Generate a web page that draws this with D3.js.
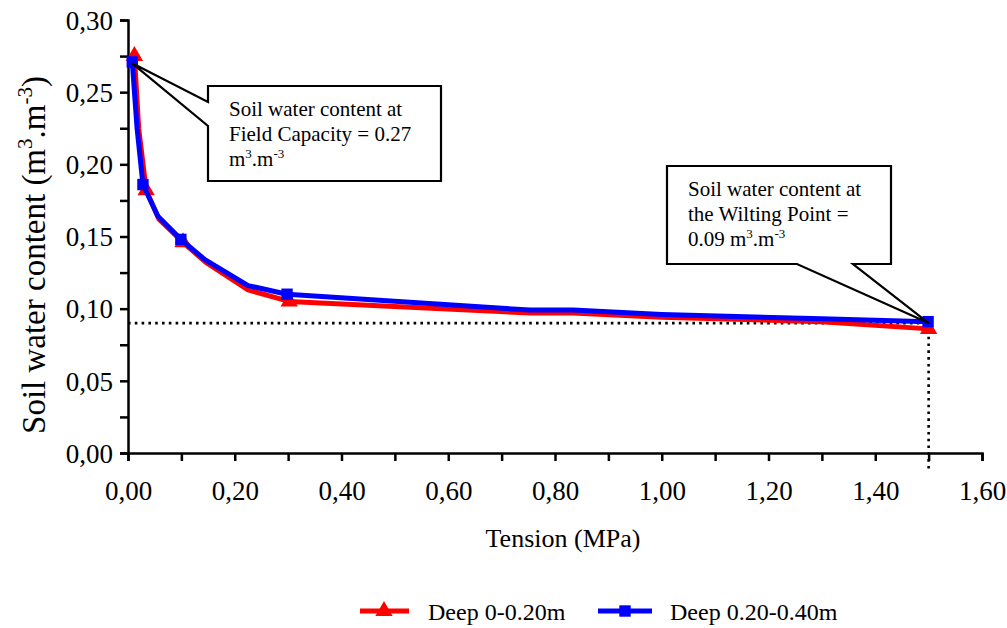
<!DOCTYPE html>
<html>
<head>
<meta charset="utf-8">
<script src="https://cdn.jsdelivr.net/npm/d3@7"></script>
<style>
  body { margin: 0; background: #fff; }
  svg text { font-family: "Liberation Serif", "DejaVu Serif", serif; fill: #000; }
</style>
</head>
<body>
<script>
// tension (MPa) and water content (m3.m-3)
// marked = measured points that carry a marker
var tensionTop = [0.012, 0.02, 0.034, 0.058, 0.103, 0.146, 0.225, 0.302, 0.753, 0.834, 1.00, 1.30, 1.50];
var contentTop = [0.275, 0.225, 0.182, 0.162, 0.146, 0.132, 0.113, 0.105, 0.097, 0.097, 0.094, 0.091, 0.086];
var markedTop  = [1, 0, 1, 0, 1, 0, 0, 1, 0, 0, 0, 0, 1];

var tensionSub = [0.008, 0.017, 0.028, 0.056, 0.099, 0.144, 0.225, 0.298, 0.753, 0.834, 1.00, 1.30, 1.499];
var contentSub = [0.271, 0.225, 0.186, 0.164, 0.148, 0.134, 0.116, 0.110, 0.099, 0.099, 0.096, 0.093, 0.091];
var markedSub  = [1, 0, 1, 0, 1, 0, 0, 1, 0, 0, 0, 0, 1];

var seriesNames = ["Deep 0-0.20m", "Deep 0.20-0.40m"];
var fieldCapacity = 0.27;
var wiltingPoint = 0.09;
var wiltingTension = 1.5;

var xTicks = [0, 0.2, 0.4, 0.6, 0.8, 1.0, 1.2, 1.4, 1.6];
var yTicks = [0, 0.05, 0.10, 0.15, 0.20, 0.25, 0.30];

var width = 1007, height = 628;
var svg = d3.select("body").append("svg")
            .attr("width", width)
            .attr("height", height);

var x = d3.scaleLinear().domain([0, 1.6]).range([128, 982]);
var y = d3.scaleLinear().domain([0, 0.3]).range([453, 20]);

function fmt(d) { return d3.format(".2f")(d).replace(".", ","); }

function isIn(list, d) {
  return list.some(function(t) { return Math.abs(t - d) < 1e-6; });
}

// axes
var xAxis = d3.axisBottom(x)
              .tickValues(d3.range(0, 1.61, 0.1))
              .tickSize(8)
              .tickFormat(function(d) { return isIn(xTicks, d) ? fmt(d) : ""; });
var yAxis = d3.axisLeft(y)
              .tickValues(d3.range(0, 0.301, 0.025))
              .tickSize(8)
              .tickFormat(function(d) { return isIn(yTicks, d) ? fmt(d) : ""; });

var gx = svg.append("g").attr("transform", "translate(0," + y(0) + ")").call(xAxis);
var gy = svg.append("g").attr("transform", "translate(" + x(0) + ",0)").call(yAxis);
[gx, gy].forEach(function(g) {
  g.attr("font-family", null).attr("font-size", null);
  g.select(".domain").attr("stroke", "#000").attr("stroke-width", 2.5);
  g.selectAll(".tick line").attr("stroke", "#000").attr("stroke-width", 2.5);
  g.selectAll(".tick text").style("font-size", "27px").attr("fill", "#000");
});
gx.selectAll(".tick text").attr("dy", 0).attr("y", 47);
gy.selectAll(".tick text").attr("x", -15).attr("dy", "0.34em");

// axis titles
svg.append("text")
   .attr("x", 563).attr("y", 547)
   .attr("text-anchor", "middle")
   .style("font-size", "26px")
   .text("Tension (MPa)");

var yTitle = svg.append("text")
   .attr("transform", "translate(45,255) rotate(-90)")
   .attr("text-anchor", "middle")
   .style("font-size", "33px");
yTitle.append("tspan").text("Soil water content (m");
yTitle.append("tspan").attr("dy", -13).style("font-size", "21px").text("3");
yTitle.append("tspan").attr("dy", 13).text(".m");
yTitle.append("tspan").attr("dy", -13).style("font-size", "21px").text("-3");
yTitle.append("tspan").attr("dy", 13).text(")");

// dotted reference lines for the wilting point
svg.append("line")
   .attr("x1", x(0)).attr("x2", x(wiltingTension))
   .attr("y1", y(wiltingPoint)).attr("y2", y(wiltingPoint))
   .attr("stroke", "#000").attr("stroke-width", 2.6)
   .attr("stroke-dasharray", "2.6,4.2");
svg.append("line")
   .attr("x1", x(wiltingTension)).attr("x2", x(wiltingTension))
   .attr("y1", y(wiltingPoint)).attr("y2", y(0) + 18)
   .attr("stroke", "#000").attr("stroke-width", 2.6)
   .attr("stroke-dasharray", "2.6,4.2");

// series
var series = [
  {name: seriesNames[0], color: "#ff0000", shape: d3.symbolTriangle, size: 130,
   data: tensionTop.map(function(t, i) { return {x: t, y: contentTop[i], m: markedTop[i]}; })},
  {name: seriesNames[1], color: "#0000ff", shape: d3.symbolSquare, size: 130,
   data: tensionSub.map(function(t, i) { return {x: t, y: contentSub[i], m: markedSub[i]}; })}
];

var line = d3.line()
             .x(function(d) { return x(d.x); })
             .y(function(d) { return y(d.y); });

series.forEach(function(s) {
  svg.append("path")
     .datum(s.data)
     .attr("d", line)
     .attr("fill", "none")
     .attr("stroke", s.color)
     .attr("stroke-width", 5)
     .attr("stroke-linejoin", "round");
  svg.selectAll(null)
     .data(s.data.filter(function(d) { return d.m; }))
     .enter().append("path")
     .attr("d", d3.symbol().type(s.shape).size(s.size))
     .attr("transform", function(d) { return "translate(" + x(d.x) + "," + y(d.y) + ")"; })
     .attr("fill", s.color);
});

// callouts
function callout(box, tip, gap, lines) {
  var p;
  if (gap.side === "left") {
    p = [[box.x0, box.y0], [box.x1, box.y0], [box.x1, box.y1], [box.x0, box.y1],
         [box.x0, gap.b], tip, [box.x0, gap.a]];
  } else {
    p = [[box.x0, box.y0], [box.x1, box.y0], [box.x1, box.y1], [gap.b, box.y1],
         tip, [gap.a, box.y1], [box.x0, box.y1]];
  }
  svg.append("path")
     .attr("d", "M" + p.join("L") + "Z")
     .attr("fill", "#fff")
     .attr("stroke", "#000")
     .attr("stroke-width", 2.2);
  lines.forEach(function(l, i) {
    var t = svg.append("text")
               .attr("x", box.x0 + 21)
               .attr("y", box.y0 + 30 + i * 25)
               .style("font-size", "21px");
    var raised = false;
    l.forEach(function(part) {
      var ts = t.append("tspan");
      if (part.sup) {
        ts.attr("dy", -8).style("font-size", "13px").text(part.sup);
        raised = true;
      } else {
        if (raised) { ts.attr("dy", 8); raised = false; }
        ts.text(part.t);
      }
    });
  });
}

callout({x0: 208, y0: 86, x1: 441, y1: 181},
        [x(tensionSub[0]), y(fieldCapacity)],
        {side: "left", a: 102, b: 126},
        [[{t: "Soil water content at"}],
         [{t: "Field Capacity = 0.27"}],
         [{t: "m"}, {sup: "3"}, {t: ".m"}, {sup: "-3"}]]);

callout({x0: 667, y0: 166, x1: 891, y1: 264},
        [x(wiltingTension), y(wiltingPoint)],
        {side: "bottom", a: 797, b: 853},
        [[{t: "Soil water content at"}],
         [{t: "the Wilting Point ="}],
         [{t: "0.09 m"}, {sup: "3"}, {t: ".m"}, {sup: "-3"}]]);

// legend
var legend = svg.append("g");
var legendX = [360, 598];
series.forEach(function(s, i) {
  var g = legend.append("g").attr("transform", "translate(" + legendX[i] + ",611)");
  g.append("line").attr("x1", 0).attr("x2", i === 0 ? 49 : 54)
   .attr("stroke", s.color).attr("stroke-width", 5);
  g.append("path").attr("d", d3.symbol().type(s.shape).size(s.size))
   .attr("transform", "translate(" + (i === 0 ? 24 : 27) + ",0)").attr("fill", s.color);
  g.append("text").attr("x", i === 0 ? 68 : 72).attr("y", 9)
   .style("font-size", "24px").text(s.name);
});
</script>
</body>
</html>
